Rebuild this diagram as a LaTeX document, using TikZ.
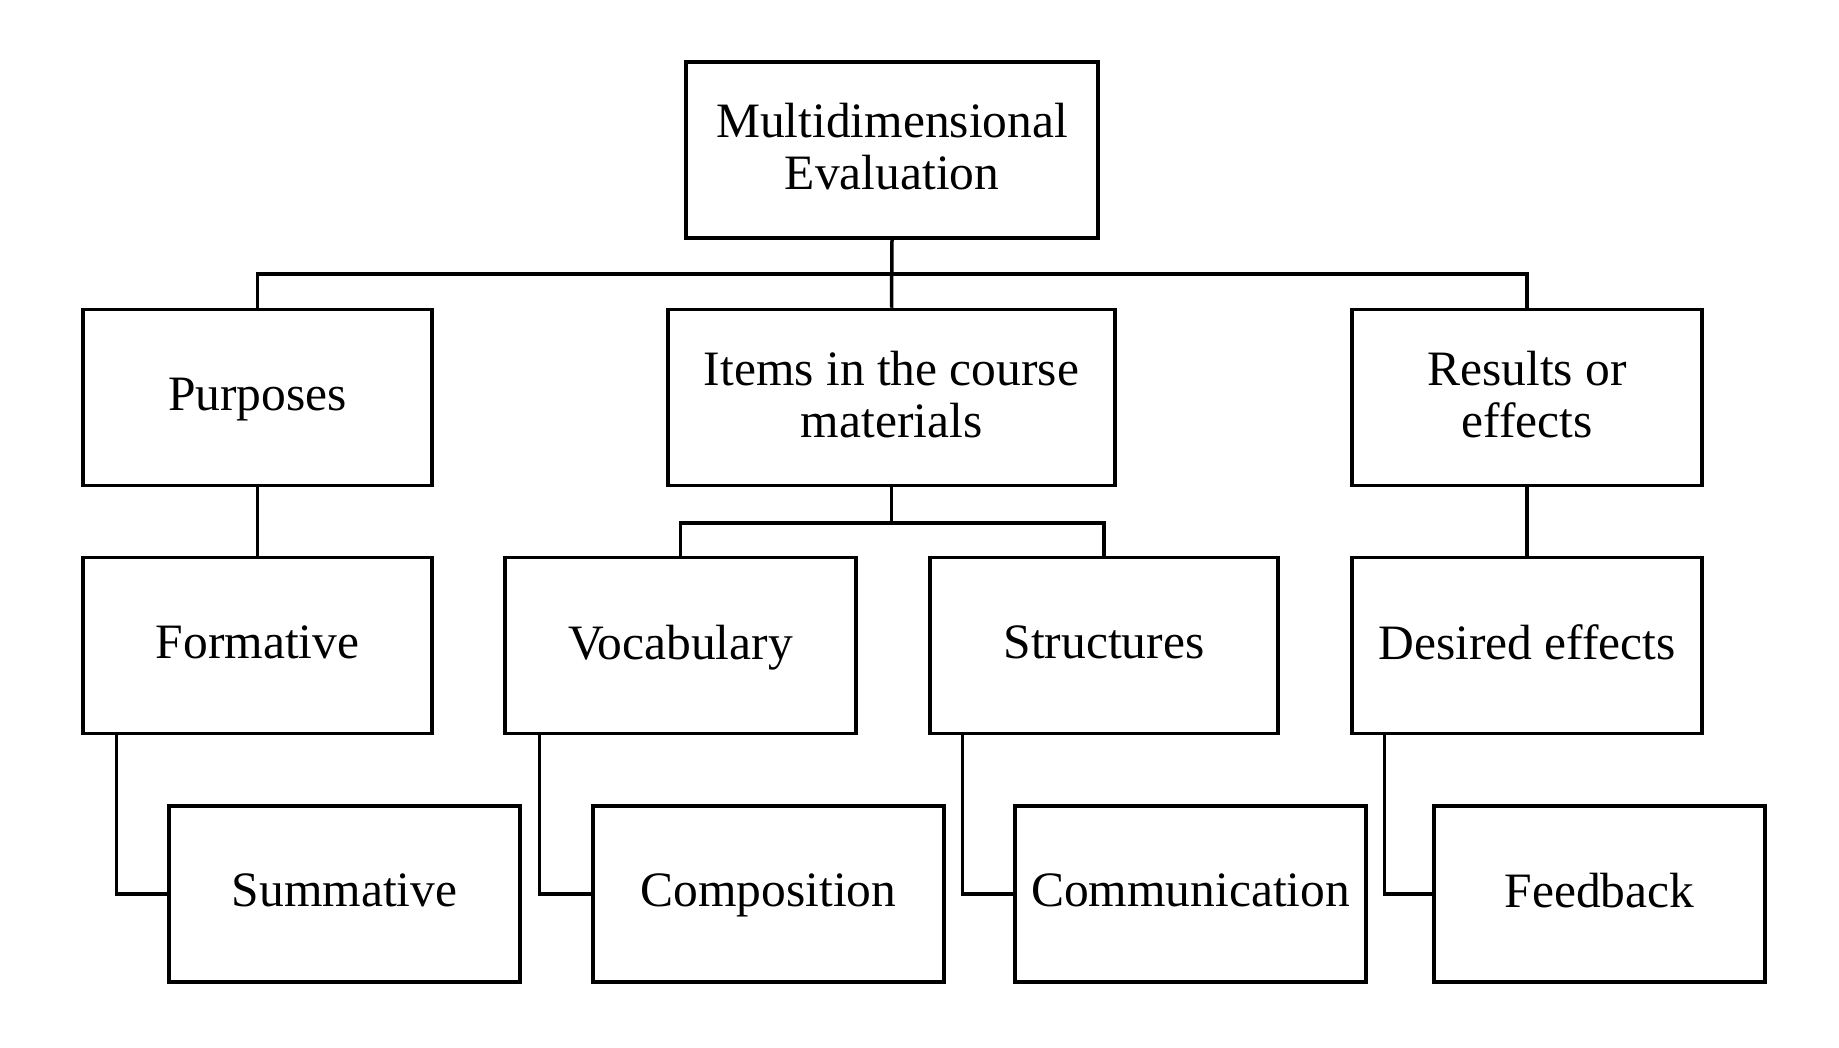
\documentclass[tikz,border=0pt]{standalone}
\usepackage{fontspec}
\setmainfont{Liberation Serif}
\begin{document}
\begin{tikzpicture}[x=1pt,y=-1pt,
  box/.style={draw=black,line width=3.5pt,rectangle,inner sep=0pt,align=center,
    text depth=7pt,font=\fontsize{49.5}{52}\selectfont,minimum height=176pt},
  conn/.style={draw=black,line width=3.5pt,line join=miter}]
\useasboundingbox (0,0) rectangle (1839,1048);
\node[box,minimum width=412pt] (top) at (892,150) {Multidimensional\\Evaluation};
\node[box,minimum width=349pt] (purposes) at (257.5,397.5) {Purposes};
\node[box,minimum width=447pt] (items) at (891.5,397.5) {Items in the course\\materials};
\node[box,minimum width=350pt] (results) at (1527,397.5) {Results or\\effects};
\node[box,minimum width=349pt] (formative) at (257.5,645.5) {Formative};
\node[box,minimum width=351pt] (vocabulary) at (680.5,645.5) {Vocabulary};
\node[box,minimum width=348pt] (structures) at (1104,645.5) {Structures};
\node[box,minimum width=350pt] (desired) at (1527,645.5) {Desired effects};
\node[box,minimum width=351pt] (summative) at (344.5,894) {Summative};
\node[box,minimum width=351pt] (composition) at (768.5,894) {Composition};
\node[box,minimum width=351pt] (communication) at (1190.5,894) {Communication};
\node[box,minimum width=331pt] (feedback) at (1599.5,894) {Feedback};
\coordinate (topbus) at (892,274);
\coordinate (itembus) at (891.5,523);
% top level
\draw[conn] (top.south) -- (items.north);
\draw[conn] (purposes.north) |- (topbus) -| (results.north);
% second level
\draw[conn] (purposes.south) -- (formative.north);
\draw[conn] (results.south) -- (desired.north);
\draw[conn] (items.south) -- (itembus);
\draw[conn] (vocabulary.north) |- (itembus) -| (structures.north);
% elbows
\draw[conn] ([xshift=35pt]formative.south west) |- (summative.west);
\draw[conn] ([xshift=36pt]vocabulary.south west) |- (composition.west);
\draw[conn] ([xshift=34pt]structures.south west) |- (communication.west);
\draw[conn] ([xshift=34pt]desired.south west) |- (feedback.west);
\end{tikzpicture}
\end{document}
